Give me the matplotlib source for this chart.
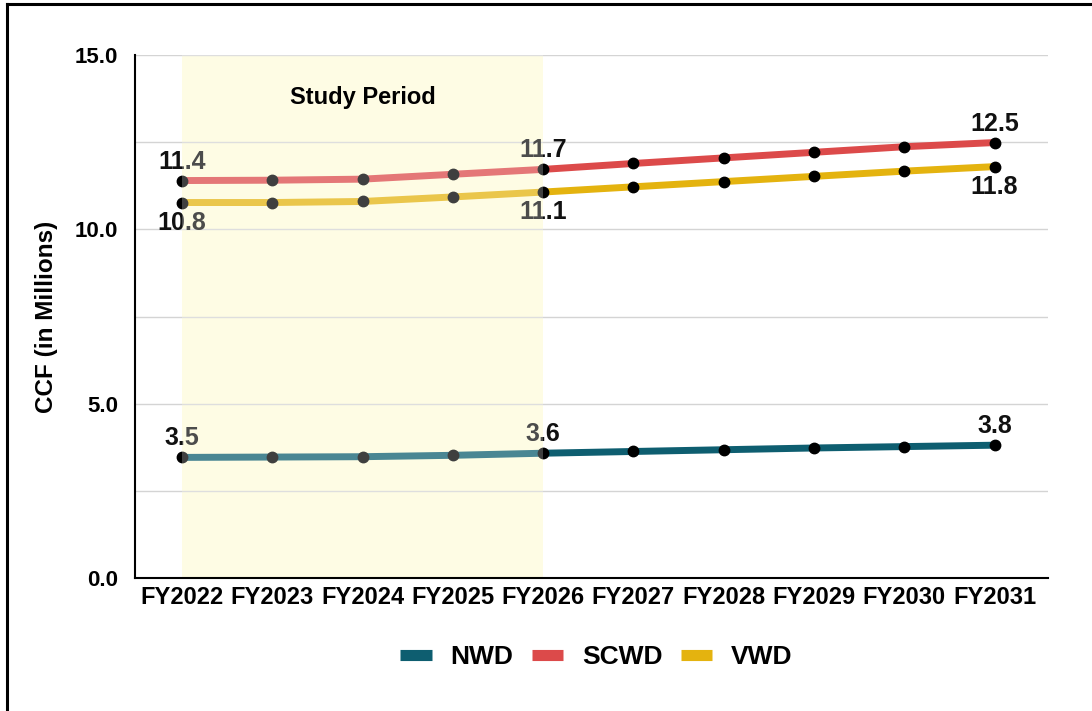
import matplotlib
matplotlib.use("Agg")
from matplotlib import pyplot as plt
from matplotlib.lines import Line2D
from matplotlib.ticker import MultipleLocator, FormatStrFormatter
import numpy as np

plt.rcParams['font.family'] = ['Liberation Sans', 'DejaVu Sans']
plt.rcParams['font.weight'] = 'bold'
plt.rcParams['axes.labelweight'] = 'bold'

years = ['FY2022', 'FY2023', 'FY2024', 'FY2025', 'FY2026',
         'FY2027', 'FY2028', 'FY2029', 'FY2030', 'FY2031']
nwd = [3.46, 3.47, 3.48, 3.52, 3.58, 3.63, 3.68, 3.73, 3.77, 3.81]
scwd = [11.40, 11.41, 11.44, 11.58, 11.72, 11.89, 12.05, 12.21, 12.37, 12.49]
vwd = [10.77, 10.77, 10.80, 10.93, 11.07, 11.22, 11.37, 11.52, 11.67, 11.80]
study_start, study_end = 0, 4
labelled = [0, 4, 9]

colors = {'NWD': '#0e5e70', 'SCWD': '#dc4a4a', 'VWD': '#e4b30f'}

fig = plt.figure(figsize=(10.92, 7.11), dpi=100)
ax = fig.add_axes([0.1236, 0.187, 0.836, 0.7356])
ind = np.arange(len(years))

# study period background
ax.axvspan(study_start, study_end, color='#fefcdb', lw=0, zorder=0.5)

for name, vals, side in [('NWD', nwd, 'above'), ('SCWD', scwd, 'above'), ('VWD', vwd, 'below')]:
    ax.plot(ind, vals, color=colors[name], lw=5, solid_capstyle='butt', zorder=3)
    ax.plot(ind, vals, 'o', color='black', ms=7.5, zorder=3.5)
    for i in labelled:
        if side == 'above':
            ax.annotate('%.1f' % vals[i], (ind[i], vals[i]), xytext=(0, 5), textcoords='offset points',
                        ha='center', va='bottom', fontsize=18, color='#111111', zorder=4)
        else:
            ax.annotate('%.1f' % vals[i], (ind[i], vals[i]), xytext=(0, -6), textcoords='offset points',
                        ha='center', va='top', fontsize=18, color='#111111', zorder=4)

# faded look of everything inside the study period
ax.axvspan(study_start, study_end, color='white', alpha=0.25, lw=0, zorder=5)
ax.text((study_start + study_end) / 2, 13.77, 'Study Period', ha='center', va='center',
        fontsize=17, zorder=6)

ax.set_xlim(-0.52, 9.59)
ax.set_ylim(0, 15)
ax.set_xticks(ind)
ax.set_xticklabels(years, fontsize=17)
ax.yaxis.set_major_locator(MultipleLocator(5))
ax.yaxis.set_minor_locator(MultipleLocator(2.5))
ax.yaxis.set_major_formatter(FormatStrFormatter('%.1f'))
ax.tick_params(axis='y', labelsize=16, length=0, pad=12)
ax.tick_params(axis='x', length=0, pad=6)
ax.tick_params(which='minor', length=0)
ax.grid(axis='y', which='both', color='#d4d4d4', lw=1)
ax.set_axisbelow(True)
for s in ['top', 'right']:
    ax.spines[s].set_visible(False)
for s in ['left', 'bottom']:
    ax.spines[s].set_linewidth(1.5)
    ax.spines[s].set_zorder(7)
ax.set_ylabel('CCF (in Millions)', fontsize=17.5, labelpad=12)

handles = [Line2D([], [], color=colors[n], lw=8, solid_capstyle='butt') for n in colors]
fig.legend(handles, list(colors), loc='center', bbox_to_anchor=(0.546, 0.076), ncol=3,
           frameon=False, fontsize=19, handlelength=1.2, handletextpad=0.7, columnspacing=0.7)

# screenshot frame (top and left edges)
fig.add_artist(Line2D([7 / 1092, 1], [1 - 4 / 711, 1 - 4 / 711], color='black', lw=2.2,
                      transform=fig.transFigure))
fig.add_artist(Line2D([7 / 1092, 7 / 1092], [0, 1 - 4 / 711], color='black', lw=2.2,
                      transform=fig.transFigure))

plt.savefig('out.png', dpi=100)
